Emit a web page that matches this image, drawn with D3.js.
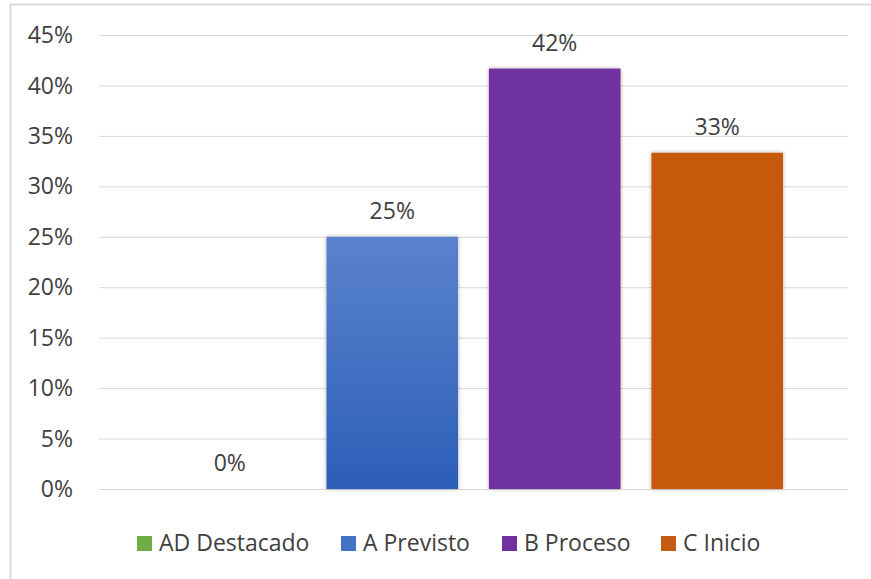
<!DOCTYPE html>
<html><head><meta charset="utf-8">
<script src="https://cdn.jsdelivr.net/npm/d3@7/dist/d3.min.js"></script>
<style>body{margin:0;background:#fff}svg{display:block}text{font-family:"Open Sans",sans-serif;fill:#404040}</style>
</head><body>
<script>
const categories = ["AD Destacado","A Previsto","B Proceso","C Inicio"];
const values = [0, 0.25, 0.4167, 0.3333];
const labels = ["0%","25%","42%","33%"];
const yTicks = [0,0.05,0.10,0.15,0.20,0.25,0.30,0.35,0.40,0.45];
const colors = ["#70ad47","url(#gradA)","#7030a0","#c55a11"];
const legendColors = ["#70ad47","#4472c4","#7030a0","#c55a11"];

const W=871,H=579;
const svg=d3.select("body").append("svg").attr("width",W).attr("height",H);
const defs=svg.append("defs");
const g=defs.append("linearGradient").attr("id","gradA").attr("x1",0).attr("y1",0).attr("x2",0).attr("y2",1);
g.append("stop").attr("offset","0%").attr("stop-color","#5b82cc");
g.append("stop").attr("offset","100%").attr("stop-color","#2c5fb8");
const f=defs.append("filter").attr("id","sh").attr("x","-10%").attr("y","-10%").attr("width","120%").attr("height","120%");
f.append("feDropShadow").attr("dx",0).attr("dy",0).attr("stdDeviation",2).attr("flood-color","#000").attr("flood-opacity",0.3);

// frame
svg.append("line").attr("x1",10.5).attr("x2",10.5).attr("y1",4).attr("y2",H).attr("stroke","#d9d9d9").attr("stroke-width",2);
svg.append("line").attr("x1",10).attr("x2",W).attr("y1",4.5).attr("y2",4.5).attr("stroke","#d9d9d9").attr("stroke-width",2);

const x=d3.scaleBand().domain(categories).range([99,848]).paddingInner(0.19).paddingOuter(0.4);
const y=d3.scaleLinear().domain([0,0.45]).range([489,35]);

const yAxis=d3.axisLeft(y).tickValues(yTicks).tickFormat(d3.format(".0%")).tickSize(-(848-99)).tickPadding(26);
const ga=svg.append("g").attr("transform","translate(99,0)").call(yAxis);
ga.select(".domain").remove();
ga.selectAll(".tick line").attr("stroke","#d9d9d9").attr("stroke-width",1);
ga.selectAll(".tick text").style("font-size","23px").attr("fill","#404040").attr("dy","0.33em");

svg.append("g").selectAll("rect").data(values).join("rect")
  .attr("x",(d,i)=>x(categories[i])).attr("width",x.bandwidth())
  .attr("y",d=>y(d)).attr("height",d=>y(0)-y(d))
  .attr("fill",(d,i)=>colors[i]).attr("filter","url(#sh)");

svg.append("g").selectAll("text").data(values).join("text")
  .attr("x",(d,i)=>x(categories[i])+x.bandwidth()/2).attr("y",d=>y(d)-18)
  .attr("text-anchor","middle").style("font-size","23px").text((d,i)=>labels[i]);

const legX=[137,341,502,661];
const lg=svg.append("g").selectAll("g").data(categories).join("g").attr("transform",(d,i)=>`translate(${legX[i]},536)`);
lg.append("rect").attr("width",15).attr("height",15).attr("fill",(d,i)=>legendColors[i]);
lg.append("text").attr("x",22).attr("y",15).style("font-size","23px").text(d=>d);
</script>
</body></html>
